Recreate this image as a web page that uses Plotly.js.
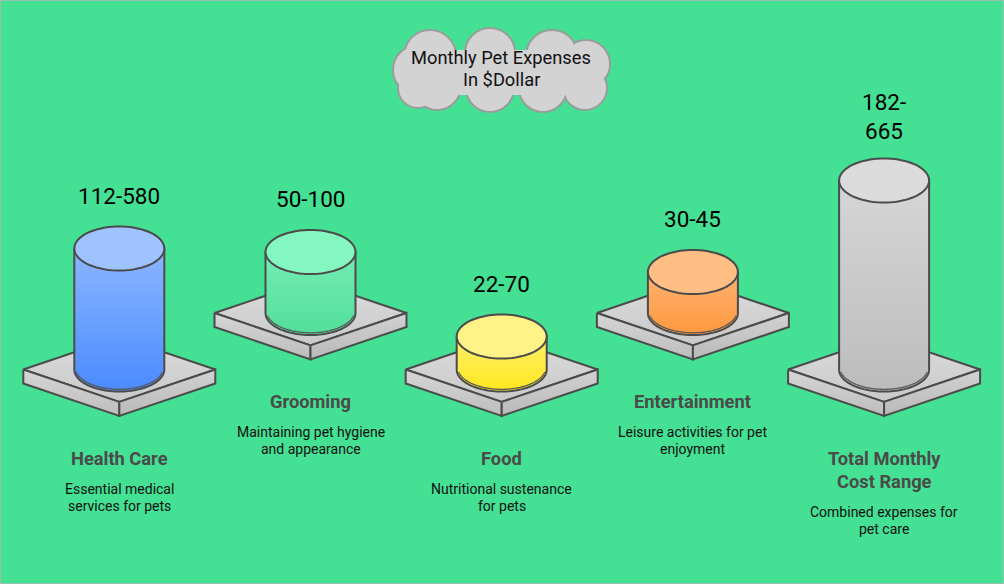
<!DOCTYPE html>
<html><head><meta charset="utf-8">
<script src="https://cdn.plot.ly/plotly-3.0.1.min.js"></script>
<style>html,body{margin:0;padding:0;background:#44e093;overflow:hidden}</style>
</head><body><div id="chart" style="width:1004px;height:584px"></div>
<script>
// ---------- data ----------
const categories = ['Health Care', 'Grooming', 'Food', 'Entertainment', 'Total Monthly<br>Cost Range'];
const rangeLow = [112, 50, 22, 30, 182];
const rangeHigh = [580, 100, 70, 45, 665];
const labelWrapped = [false, false, false, false, true];
const cylinderLevel = [121, 61, 33, 41, 189]; // cylinder heights
const descriptions = [
  'Essential medical<br>services for pets',
  'Maintaining pet hygiene<br>and appearance',
  'Nutritional sustenance<br>for pets',
  'Leisure activities for pet<br>enjoyment',
  'Combined expenses for<br>pet care'
];
const chartTitle = 'Monthly Pet Expenses<br>In $Dollar';

// ---------- styles ----------
const topColors = ['#9fc3ff', '#84f6c0', '#fff388', '#ffbe84', '#dbdbdb'];
const bodyTopColors = ['#8cb6ff', '#74ecb3', '#fff06e', '#ffb372', '#d6d6d6'];
const bodyBottomColors = ['#4a8bff', '#52df9a', '#ffe71e', '#ff983e', '#bcbcbc'];
const edge = '#4b4b4b';
const BG = '#44e093';
const FONT = 'Roboto, sans-serif';

// ---------- layout geometry ----------
const W = 1004, H = 584;
const X0 = 119.3, DX = 191.2;
const LOW_Y = 369.5, HIGH_Y = 313;
const PW = 96, PH = 32.4, PT = 14;   // platform half-width, half-height, thickness
const RX = 45, RY = 22;              // cylinder radii

function ell(cx, cy, rx, ry, a0, a1, n) {
  const xs = [], ys = [];
  for (let k = 0; k <= n; k++) {
    const t = a0 + (a1 - a0) * k / n;
    xs.push(cx + rx * Math.cos(t));
    ys.push(cy + ry * Math.sin(t));
  }
  return [xs, ys];
}

const traces = [];
const annotations = [];

function textLines(lines, cx, firstY, pitch, font) {
  lines.forEach((ln, k) => {
    annotations.push({
      x: cx, y: firstY + k * pitch, xref: 'x', yref: 'y', showarrow: false,
      xanchor: 'center', yanchor: 'middle', text: ln, align: 'center', font: font
    });
  });
}

categories.forEach((cat, i) => {
  const cx = X0 + DX * i;
  const cy = (i % 2 === 0) ? LOW_Y : HIGH_Y;
  const h = cylinderLevel[i];
  const top = cy - h;

  // platform top face
  traces.push({
    type: 'scatter', mode: 'lines', fill: 'toself', hoverinfo: 'skip',
    x: [cx - PW, cx, cx + PW, cx, cx - PW],
    y: [cy, cy - PH, cy, cy + PH, cy],
    line: {color: edge, width: 2, simplify: false},
    fillgradient: {type: 'vertical', colorscale: [[0, '#dcdcdc'], [1, '#c9c9c9']], start: cy - PH, stop: cy + PH}
  });
  // left side face
  traces.push({
    type: 'scatter', mode: 'lines', fill: 'toself', hoverinfo: 'skip',
    x: [cx - PW, cx, cx, cx - PW, cx - PW],
    y: [cy, cy + PH, cy + PH + PT, cy + PT, cy],
    line: {color: edge, width: 2, simplify: false},
    fillgradient: {type: 'vertical', colorscale: [[0, '#d6d6d6'], [1, '#bdbdbd']], start: cy, stop: cy + PH + PT}
  });
  // right side face
  traces.push({
    type: 'scatter', mode: 'lines', fill: 'toself', hoverinfo: 'skip',
    x: [cx, cx + PW, cx + PW, cx, cx],
    y: [cy + PH, cy, cy + PT, cy + PH + PT, cy + PH],
    line: {color: edge, width: 2, simplify: false},
    fillgradient: {type: 'vertical', colorscale: [[0, '#d2d2d2'], [1, '#b9b9b9']], start: cy, stop: cy + PH + PT}
  });

  // cylinder body
  const [bx, by] = ell(cx, cy, RX, RY, Math.PI, 0, 60);
  traces.push({
    type: 'scatter', mode: 'lines', fill: 'toself', hoverinfo: 'skip',
    x: [cx - RX].concat(bx, [cx + RX, cx - RX]),
    y: [top].concat(by, [top, top]),
    line: {color: edge, width: 2, simplify: false},
    fillgradient: {type: 'vertical', colorscale: [[0, bodyTopColors[i]], [1, bodyBottomColors[i]]], start: top, stop: cy + RY}
  });
  // inner bottom rim line
  const [ix, iy] = ell(cx, cy - 2.2, RX - 0.8, RY, Math.PI * 0.93, Math.PI * 0.07, 50);
  traces.push({
    type: 'scatter', mode: 'lines', hoverinfo: 'skip',
    x: ix, y: iy, line: {color: '#5a5a5a', width: 1.3, simplify: false}
  });
  // cylinder top
  const [tx, ty] = ell(cx, top, RX, RY, 0, 2 * Math.PI, 80);
  traces.push({
    type: 'scatter', mode: 'lines', fill: 'toself', hoverinfo: 'skip',
    x: tx, y: ty,
    line: {color: edge, width: 2, simplify: false},
    fillcolor: topColors[i]
  });

  // value label
  const labLines = labelWrapped[i] ? [rangeLow[i] + '-', String(rangeHigh[i])] : [rangeLow[i] + '-' + rangeHigh[i]];
  const labPitch = 28.3;
  const labLast = top - RY - (labLines.length > 1 ? 28 : 31);
  textLines(labLines, cx, labLast - (labLines.length - 1) * labPitch, labPitch,
    {family: FONT, size: 22.5, color: '#000000'});

  // category title
  const titleLines = cat.split('<br>').map(s => '<b>' + s + '</b>');
  const titleFirst = cy + 88.5;
  const titlePitch = 23;
  textLines(titleLines, cx, titleFirst, titlePitch, {family: FONT, size: 18.3, color: '#4a4a4a'});
  const titleLast = titleFirst + (titleLines.length - 1) * titlePitch;

  // description
  textLines(descriptions[i].split('<br>'), cx, titleLast + 30.5, 17, {family: FONT, size: 14, color: '#111111'});
});

// ---------- title cloud ----------
const cloudCircles = [
  [430, 56, 26], [490, 53, 25], [552, 56, 26], [586, 64, 24], [585, 88, 22],
  [543, 88, 24], [490, 88, 24], [437, 86, 24], [418, 70, 25], [418, 88, 20]
];
const shapes = [];
cloudCircles.forEach(([ccx, ccy, r]) => {
  shapes.push({type: 'circle', xref: 'x', yref: 'y', x0: ccx - r, x1: ccx + r, y0: ccy - r, y1: ccy + r,
    fillcolor: '#d0d0d0', line: {color: '#9c9c9c', width: 2}});
});
cloudCircles.forEach(([ccx, ccy, r]) => {
  shapes.push({type: 'circle', xref: 'x', yref: 'y', x0: ccx - r + 1.2, x1: ccx + r - 1.2, y0: ccy - r + 1.2, y1: ccy + r - 1.2,
    fillcolor: '#d3d3d3', line: {width: 0}});
});
shapes.push({type: 'rect', xref: 'x', yref: 'y', x0: 425, x1: 585, y0: 50, y1: 95, fillcolor: '#d3d3d3', line: {width: 0}});
shapes.push({type: 'rect', xref: 'paper', yref: 'paper', x0: 0, x1: 1, y0: 0, y1: 1, line: {color: '#b5b5b5', width: 1.5}, fillcolor: 'rgba(0,0,0,0)'});

textLines(chartTitle.split('<br>'), 501, 57, 22, {family: FONT, size: 18.3, color: '#111111'});

const layout = {
  width: W, height: H, autosize: false,
  margin: {l: 0, r: 0, t: 0, b: 0, pad: 0},
  paper_bgcolor: BG, plot_bgcolor: BG,
  showlegend: false,
  xaxis: {range: [0, W], visible: false, fixedrange: true},
  yaxis: {range: [H, 0], visible: false, fixedrange: true},
  shapes: shapes,
  annotations: annotations
};

Plotly.newPlot('chart', traces, layout, {staticPlot: true, displayModeBar: false});
</script>
</body></html>
